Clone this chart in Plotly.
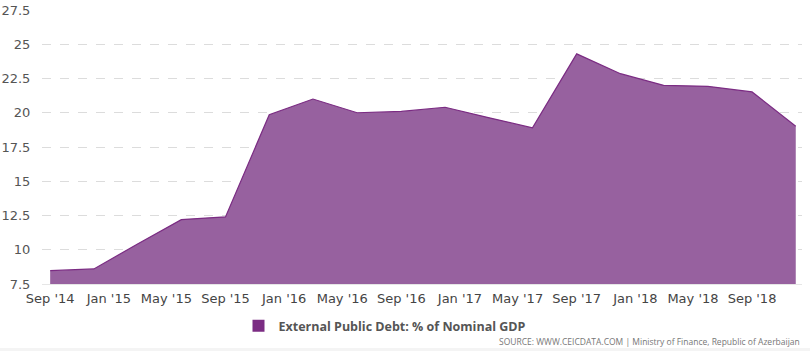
import plotly.graph_objects as go

dates = ["2014-09-01", "2014-12-01", "2015-03-01", "2015-06-01", "2015-09-01", "2015-12-01",
         "2016-03-01", "2016-06-01", "2016-09-01", "2016-12-01", "2017-03-01", "2017-06-01",
         "2017-09-01", "2017-12-01", "2018-03-01", "2018-06-01", "2018-09-01", "2018-12-01"]
values = [8.47, 8.6, 10.4, 12.2, 12.4, 19.85, 21.0, 20.0, 20.1, 20.4, 19.65, 18.9,
          24.3, 22.85, 22.0, 21.93, 21.52, 19.02]

tick_dates = ["2014-09-01", "2015-01-01", "2015-05-01", "2015-09-01", "2016-01-01", "2016-05-01",
              "2016-09-01", "2017-01-01", "2017-05-01", "2017-09-01", "2018-01-01", "2018-05-01",
              "2018-09-01"]
tick_labels = ["Sep '14", "Jan '15", "May '15", "Sep '15", "Jan '16", "May '16", "Sep '16",
               "Jan '17", "May '17", "Sep '17", "Jan '18", "May '18", "Sep '18"]
y_ticks = [7.5, 10, 12.5, 15, 17.5, 20, 22.5, 25, 27.5]
series_name = "External Public Debt: % of Nominal GDP"
source_text = "SOURCE: WWW.CEICDATA.COM | Ministry of Finance, Republic of Azerbaijan"

fig = go.Figure()
fig.add_trace(go.Scatter(
    x=dates, y=values, mode="lines", name=series_name, showlegend=False,
    line=dict(color="#7B2C83", width=1.2),
    fill="tozeroy", fillcolor="#97619F",
))
# legend-only entry with a square swatch
fig.add_trace(go.Bar(
    x=[None], y=[None], name="<b>" + series_name + "</b>",
    marker=dict(color="#7B2C83", line=dict(width=0)), showlegend=True,
))

fig.update_layout(
    width=810, height=351,
    margin=dict(l=42, r=8, t=10, b=67, autoexpand=False),
    paper_bgcolor="white", plot_bgcolor="white",
    font=dict(family="DejaVu Sans, sans-serif", size=12, color="#555"),
    showlegend=True,
    legend=dict(orientation="h", x=(385 - 42) / 760, xanchor="center", yref="container",
                y=1 - 326 / 351, yanchor="middle",
                font=dict(size=12.5, color="#555", family="Open Sans, sans-serif"),
                itemsizing="constant", itemwidth=30, bgcolor="rgba(0,0,0,0)"),
    xaxis=dict(
        type="date", range=["2014-08-15", "2018-12-14"],
        tickvals=tick_dates, ticktext=tick_labels,
        showgrid=False, zeroline=False,
        showline=True, linecolor="#e6e6e6", linewidth=1,
        ticks="outside", ticklen=2, tickcolor="white",
        tickfont=dict(size=13, color="#444", family="DejaVu Sans, sans-serif"),
    ),
    yaxis=dict(
        range=[7.5, 27.5], tickvals=y_ticks,
        ticktext=[("%g" % v) for v in y_ticks],
        showgrid=True, gridcolor="#dcdcdc", griddash="dash", gridwidth=1,
        zeroline=False, showline=False,
        ticks="outside", ticklen=8, tickcolor="white",
        tickfont=dict(size=13, color="#555", family="DejaVu Sans, sans-serif"),
    ),
)

fig.add_annotation(
    text=source_text, xref="paper", yref="paper", x=1.0, y=(284 - 341) / 274,
    xanchor="right", yanchor="middle", showarrow=False,
    font=dict(size=8.5, color="#777", family="Open Sans, sans-serif"),
)
fig.add_shape(type="rect", xref="paper", yref="paper", x0=-0.1, x1=1.1,
              y0=(284 - 348) / 274, y1=(284 - 352) / 274,
              fillcolor="#f4f4f4", line=dict(width=0), layer="below")

fig.write_html("out.html")
